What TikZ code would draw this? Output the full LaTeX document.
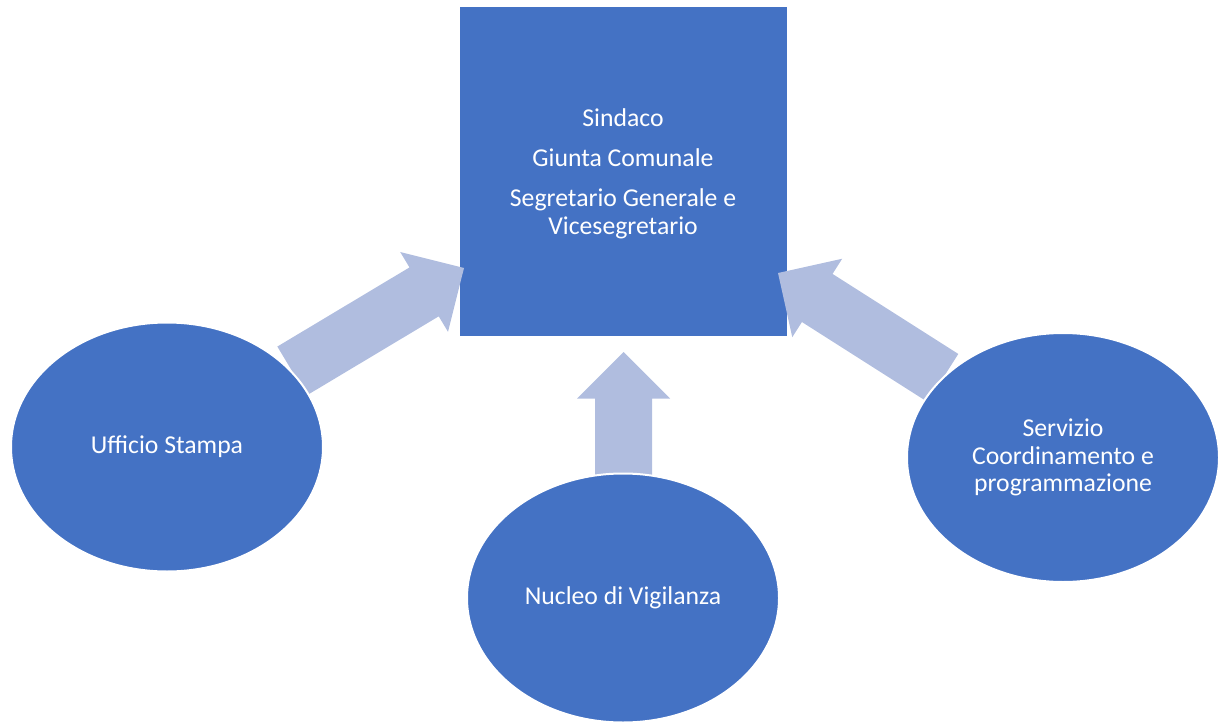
\documentclass[tikz,border=0pt]{standalone}
\usepackage{fontspec}
\setmainfont{Carlito}
\usetikzlibrary{calc,shapes.geometric}
\definecolor{mainblue}{HTML}{4472C4}
\definecolor{lightblue}{RGB}{176,189,223}
\tikzset{
  box/.style={rectangle, fill=mainblue, draw=white, line width=1pt, minimum width=328pt, minimum height=329pt, inner sep=0pt, text=white, align=center, font=\fontsize{25.7pt}{27.5pt}\selectfont},
  unit/.style={ellipse, fill=mainblue, draw=white, line width=2pt, minimum width=312pt, minimum height=249pt, inner sep=0pt, text=white, align=center, font=\fontsize{25.7pt}{27.5pt}\selectfont},
  blockarrow/.style={fill=lightblue}
}
\newcommand{\blockarrow}[2]{%
  \fill[blockarrow]
    ($(#1)!28.5pt!90:(#2)$) --
    ($($(#2)!46.5pt!(#1)$)!28.5pt!90:(#2)$) --
    ($($(#2)!46.5pt!(#1)$)!46.5pt!90:(#2)$) --
    (#2) --
    ($($(#2)!46.5pt!(#1)$)!46.5pt!-90:(#2)$) --
    ($($(#2)!46.5pt!(#1)$)!28.5pt!-90:(#2)$) --
    ($(#1)!28.5pt!-90:(#2)$) -- cycle;}
\begin{document}
\begin{tikzpicture}[x=1pt,y=-1pt]
\useasboundingbox (0,0) rectangle (1221,722);
\node[box] (sq) at (623,171.5) {};
\node[text=white, align=center, inner sep=0pt, font=\fontsize{25.7pt}{27.5pt}\selectfont] (sqtext) at (623,173.5) {Sindaco\\[13pt]Giunta Comunale\\[12.5pt]Segretario Generale e\\Vicesegretario};
% arrow anchors
\coordinate (tL) at (292,371);
\coordinate (hL) at (464,268);
\coordinate (tB) at (623.5,480);
\coordinate (hB) at (623.5,352);
\coordinate (tR) at (943,378);
\coordinate (hR) at (778,273);
\blockarrow{tL}{hL}
\blockarrow{tB}{hB}
\blockarrow{tR}{hR}
\node[unit] (uff) at (167,447) {Ufficio Stampa};
\node[unit] (nuc) at (623,598) {Nucleo di Vigilanza};
\node[unit] (ser) at (1063,457.5) {Servizio\\Coordinamento e\\programmazione};
\end{tikzpicture}
\end{document}
